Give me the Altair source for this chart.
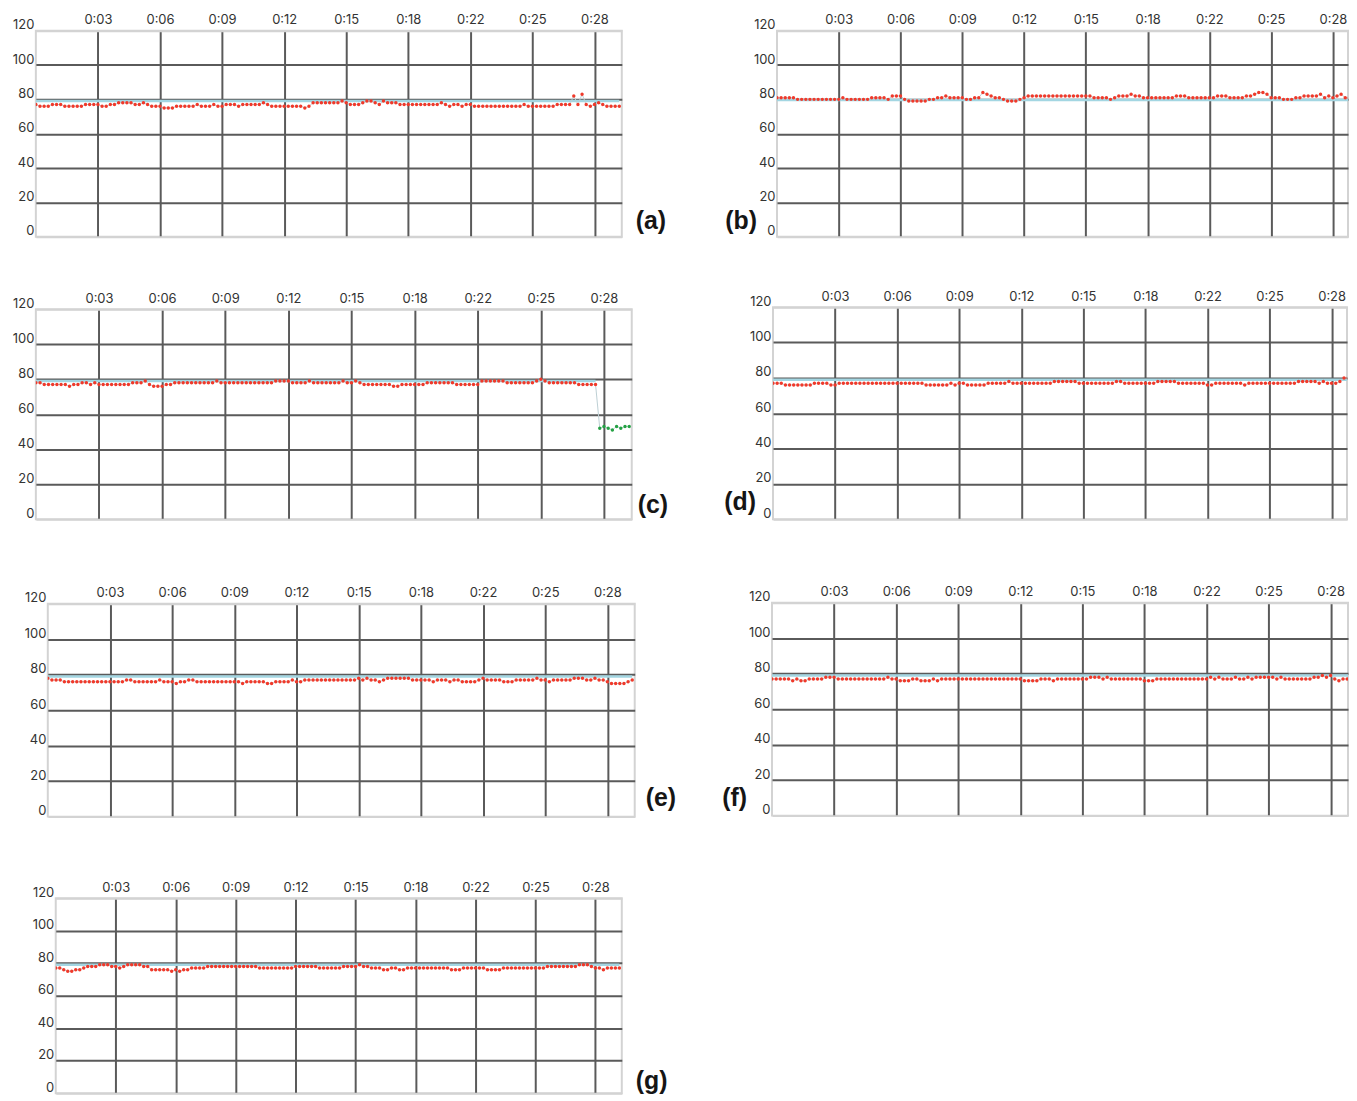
import altair as alt
import pandas as pd

# sampling interval of the recordings, minutes (12.5 s)
SAMPLE_MIN = 12.5 / 60.0

hr_a = [77,76,76,76,77,77,77,76,76,76,76,76,77,77,77,
        77,76,76,77,77,78,78,78,78,77,77,78,77,76,76,
        76,75,75,75,76,76,76,76,76,77,76,76,76,77,76,
        76,77,77,77,76,77,77,77,77,77,78,77,76,76,76,
        76,76,76,76,76,75,76,78,78,78,78,78,78,78,79,
        78,77,77,77,78,79,79,78,77,79,78,78,78,77,77,
        77,77,77,77,77,77,77,77,78,77,76,77,77,76,77,
        77,76,76,76,76,76,76,76,76,76,76,76,76,77,76,
        76,76,76,76,76,76,77,77,77,77,82,77,83,77,76,
        77,78,77,76,76,76,76]

hr_b = [81,81,81,81,81,80,80,80,80,80,80,80,80,80,80,
        80,81,80,80,80,80,80,80,81,81,81,81,80,82,82,
        82,80,79,79,79,79,79,80,80,81,81,82,81,81,81,
        81,80,80,81,81,84,83,82,81,81,80,79,79,79,80,
        81,82,82,82,82,82,82,82,82,82,82,82,82,82,82,
        82,82,81,81,81,81,80,81,82,82,82,83,82,82,81,
        81,81,81,81,81,81,81,82,82,82,81,81,81,81,81,
        81,81,82,82,82,81,81,81,81,82,82,83,84,84,83,
        81,81,81,80,80,80,81,81,82,82,82,82,83,81,82,
        81,82,83,81,81,79,78]

hr_c = [78,78,77,77,77,77,77,77,76,77,77,78,78,77,78,
        77,77,77,77,77,77,77,77,78,78,78,79,77,76,76,
        76,77,77,78,78,78,78,78,78,78,78,78,78,79,78,
        78,78,78,78,78,78,78,78,78,78,78,78,79,79,79,
        79,78,78,78,78,79,78,78,78,78,78,78,78,79,78,
        78,79,78,77,77,77,77,77,77,77,76,76,77,77,77,
        77,77,77,78,78,78,78,78,78,78,77,77,77,77,77,
        77,79,79,79,79,79,79,78,78,78,78,78,78,78,79,
        80,79,78,78,78,78,78,78,78,77,77,77,77,77]
hr_c_green = [52,53,52,51,53,52,53,53]

hr_d = [77,77,77,76,76,76,76,76,76,76,77,77,77,77,76,
        76,77,77,77,77,77,77,77,77,77,77,77,77,77,77,
        77,77,77,77,77,77,77,76,76,76,76,76,76,77,76,
        77,77,76,76,76,76,76,77,77,77,77,77,78,77,77,
        77,77,77,77,77,77,77,77,78,78,78,78,78,78,77,
        77,77,77,77,77,77,77,77,78,78,77,77,77,77,77,
        77,77,77,78,78,78,78,78,77,77,77,77,77,77,77,
        76,76,77,77,77,77,77,77,77,76,77,77,77,77,77,
        77,77,77,77,77,77,77,78,78,78,78,78,77,78,77,
        77,77,78,80,80,80,80]

hr_e = [78,77,77,77,76,76,76,76,76,76,76,76,76,76,76,
        76,76,76,76,77,77,76,76,76,76,76,76,77,76,76,
        76,75,76,76,77,77,76,76,76,76,76,76,76,76,76,
        76,76,75,76,76,76,76,76,75,75,76,76,76,76,77,
        76,76,77,77,77,77,77,77,77,77,77,77,77,77,77,
        78,77,78,77,77,76,77,78,78,78,78,78,78,77,77,
        77,77,77,76,77,77,77,76,77,77,76,76,76,76,77,
        78,77,77,77,77,76,76,76,77,77,77,77,77,78,77,
        77,76,77,77,77,77,77,78,78,78,77,77,78,77,77,
        76,75,75,75,75,76,77]

hr_f = [77,77,77,77,77,76,77,76,76,77,77,77,77,78,78,
        78,77,77,77,77,77,77,77,77,77,77,77,77,78,77,
        77,76,76,76,77,77,76,76,76,77,76,77,77,77,77,
        77,77,77,77,77,77,77,77,77,77,77,77,77,77,77,
        77,76,76,76,76,77,77,77,76,77,77,77,77,77,77,
        77,77,78,78,78,77,78,77,77,77,77,77,77,77,77,
        76,76,76,77,77,77,77,77,77,77,77,77,77,77,77,
        77,78,77,78,77,77,77,78,77,77,78,77,78,78,78,
        78,78,77,78,77,77,77,77,77,77,77,78,78,79,78,
        79,77,76,77,77,77,77]

hr_g = [77,77,76,75,75,76,76,77,78,78,78,79,79,79,78,
        78,77,78,79,79,79,79,78,78,76,76,76,76,76,75,
        76,75,76,76,77,77,77,77,78,78,78,78,78,78,78,
        78,78,78,78,78,78,77,77,77,77,77,77,77,77,77,
        78,78,78,78,78,78,77,77,77,77,77,77,78,78,78,
        78,79,78,78,77,77,77,76,76,77,77,76,76,77,77,
        77,77,77,77,77,77,77,77,77,76,76,76,77,77,77,
        77,77,77,76,76,76,76,77,77,77,77,77,77,77,77,
        77,77,77,78,78,78,78,78,78,78,78,79,79,79,78,
        77,77,76,77,77,77,77]

ref_levels = [79, 79.6, 79, 79, 79, 79, 79]
panel_names = ["(a)", "(b)", "(c)", "(d)", "(e)", "(f)", "(g)"]
x_tick_minutes = [3.125, 6.25, 9.375, 12.5, 15.625, 18.75, 21.875, 25.0, 28.125]
x_tick_labels = ["0:03", "0:06", "0:09", "0:12", "0:15", "0:18", "0:22", "0:25", "0:28"]
y_tick_values = [0, 20, 40, 60, 80, 100, 120]

RED = "#f0392a"
GREEN = "#25a244"
BLUE = "#a3d6e2"
LINK = "#bccfd4"
GRID = "#5a5a5a"
BORDER = "#d3d3d3"

labels_js = "[" + ",".join("'%s'" % s for s in x_tick_labels) + "]"
ticks_js = "[" + ",".join(repr(v) for v in x_tick_minutes) + "]"
x_label_expr = f"{labels_js}[indexof({ticks_js}, datum.value)]"


def panel(red, green, ref, name, w, h, xmax, y_ext, x_ext, lab_x, lab_dy, lab_align):
    n_red = len(red)
    n = n_red + len(green)
    df = pd.DataFrame({
        "t": [i * SAMPLE_MIN for i in range(n)],
        "hr": red + green,
        "phase": ["red"] * n_red + ["green"] * len(green),
    })
    xs = alt.Scale(domain=[0, xmax], nice=False, zero=False)
    ys = alt.Scale(domain=[0, 120], nice=False)
    xaxis = alt.Axis(orient="top", values=x_tick_minutes, labelExpr=x_label_expr,
                     grid=True, gridColor=GRID, gridWidth=2, domain=False, ticks=False,
                     labelFont="Inter", labelFontSize=13, labelColor="#333",
                     labelPadding=4, labelFlush=False, labelOverlap=False,
                     title=None, minExtent=x_ext, maxExtent=x_ext)
    yaxis = alt.Axis(orient="left", values=y_tick_values, grid=True,
                     gridColor={"condition": {"test": "datum.value == 0 || datum.value == 120",
                                              "value": BORDER}, "value": GRID},
                     gridWidth=2, domain=False, ticks=False,
                     labelFont="Inter", labelFontSize=13, labelColor="#333",
                     labelBaseline="alphabetic", labelOffset=-2, labelPadding=2,
                     labelFlush=False, labelOverlap=False, title=None,
                     minExtent=y_ext, maxExtent=y_ext)
    X = alt.X("t:Q", scale=xs, axis=xaxis)
    Y = alt.Y("hr:Q", scale=ys, axis=yaxis)

    ref_df = pd.DataFrame({"t": [0.0], "t1": [(n_red - 1) * SAMPLE_MIN], "hr": [ref]})
    rule = alt.Chart(ref_df).mark_rule(color=BLUE, strokeWidth=2.5, clip=True).encode(
        x=X, x2="t1:Q", y=Y)
    line = alt.Chart(df).mark_line(color=LINK, strokeWidth=1, clip=True).encode(x=X, y=Y)
    pts = alt.Chart(df).mark_point(filled=True, size=12, opacity=1, clip=True).encode(
        x=X, y=Y,
        color=alt.Color("phase:N", scale=alt.Scale(domain=["red", "green"], range=[RED, GREEN]),
                        legend=None))
    lab = alt.Chart(pd.DataFrame({"name": [name]})).mark_text(
        font="Liberation Sans", fontSize=25, fontWeight="bold", align=lab_align,
        baseline="alphabetic", color="#151515").encode(
        text="name:N", x=alt.value(lab_x), y=alt.value(h + lab_dy))
    return alt.layer(rule, line, pts, lab).properties(width=w, height=h)


def spacer(w):
    # empty, invisible cell used only to indent a left-column panel
    return alt.Chart(pd.DataFrame({"s": [""]})).mark_text(opacity=0).encode(
        text="s:N", x=alt.value(0), y=alt.value(0)
    ).properties(width=w, height=1, view={"stroke": "transparent", "strokeWidth": 0})


def indent(w, chart):
    return alt.hconcat(spacer(w), chart, spacing=0)


pa = panel(hr_a, [], ref_levels[0], panel_names[0], 589, 207, 29.5, 26, 19, 589 + 14, -8, "left")
pb = panel(hr_b, [], ref_levels[1], panel_names[1], 574, 207, 28.89, 98.45, 19, -20, -8, "right")
pc = panel(hr_c, hr_c_green, ref_levels[2], panel_names[2], 599, 211, 29.5, 26, 70, 599 + 6, -6, "left")
pd_ = panel(hr_d, [], ref_levels[3], panel_names[3], 577, 213, 28.9, 94.45, 68, -17, -9, "right")
pe = panel(hr_e, [], ref_levels[4], panel_names[4], 590, 214, 29.5, 26, 80, 590 + 11, -11, "left")
pf = panel(hr_f, [], ref_levels[5], panel_names[5], 579, 214, 29.0, 93.45, 81, -25, -10, "right")
pg = panel(hr_g, [], ref_levels[6], panel_names[6], 569, 196, 29.5, 26, 79, 569 + 14, -4, "left")

chart = alt.concat(
    indent(1, pa), pb, indent(1, pc), pd_, indent(13, pe), pf, indent(21, pg),
    columns=2, spacing=0, align="none", bounds="full",
).properties(padding=0, background="white").configure_view(
    stroke=BORDER, strokeWidth=2
)

chart.save("out.html", embed_options={"renderer": "svg", "actions": False})
